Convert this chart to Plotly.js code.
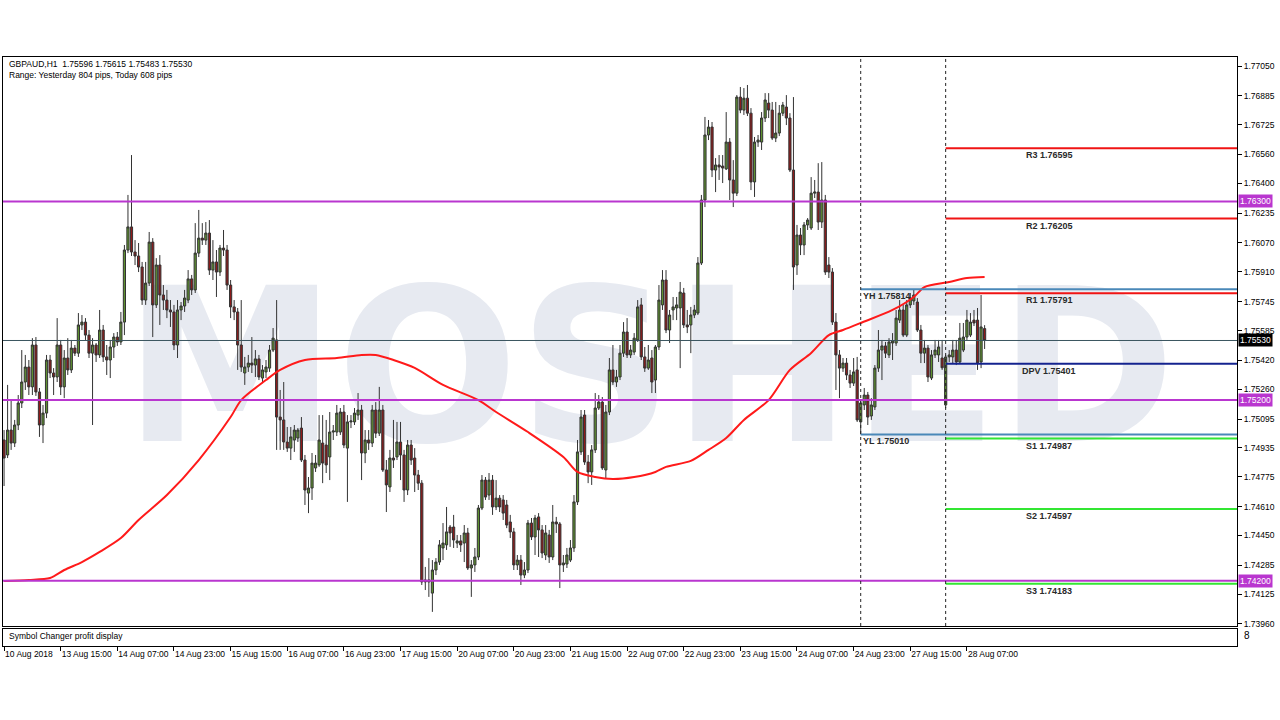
<!DOCTYPE html>
<html><head><meta charset="utf-8">
<script src="https://cdn.plot.ly/plotly-3.0.1.min.js"></script>
<style>html,body{margin:0;padding:0;background:#fff;}#chart{width:1280px;height:720px;}</style>
</head><body><div id="chart"></div>
<script>
const opens=[1.74979,1.74896,1.75034,1.74962,1.75062,1.75184,1.75300,1.75383,1.75273,1.75505,
1.75245,1.75062,1.75128,1.75422,1.75350,1.75328,1.75505,1.75273,1.75433,1.75367,
1.75488,1.75460,1.75616,1.75632,1.75560,1.75460,1.75505,1.75450,1.75588,1.75439,
1.75422,1.75494,1.75549,1.75522,1.75632,1.76031,1.76159,1.76020,1.75998,1.75937,
1.75754,1.75848,1.76075,1.75727,1.75948,1.75782,1.75754,1.75699,1.75688,1.75505,
1.75699,1.75721,1.75754,1.75871,1.75810,1.76014,1.76097,1.76086,1.76125,1.75920,
1.75965,1.75909,1.76042,1.76031,1.75837,1.75716,1.75688,1.75505,1.75350,1.75383,
1.75405,1.75394,1.75428,1.75322,1.75356,1.75377,1.75477,1.75533,1.75106,1.75090,
1.74968,1.74934,1.74979,1.74990,1.75045,1.74868,1.74685,1.74713,1.74824,1.74841,
1.74962,1.74951,1.74885,1.75023,1.75023,1.75023,1.75134,1.74934,1.75079,1.75079,
1.75117,1.75145,1.74907,1.74979,1.74962,1.75145,1.75017,1.75145,1.74813,1.74719,
1.74879,1.74885,1.74968,1.74896,1.74702,1.74951,1.74879,1.74785,1.74740,1.74204,
1.74193,1.74131,1.74259,1.74303,1.74381,1.74398,1.74497,1.74497,1.74408,1.74420,
1.74408,1.74464,1.74270,1.74287,1.74331,1.74602,1.74757,1.74674,1.74757,1.74608,
1.74657,1.74647,1.74619,1.74525,1.74470,1.74287,1.74314,1.74231,1.74259,1.74519,
1.74442,1.74553,1.74481,1.74342,1.74453,1.74331,1.74525,1.74514,1.74287,1.74292,
1.74314,1.74381,1.74636,1.74913,1.75117,1.74857,1.74802,1.74924,1.75156,1.75189,
1.74813,1.75134,1.75367,1.75300,1.75328,1.75460,1.75577,1.75450,1.75466,1.75533,
1.75727,1.75439,1.75377,1.75433,1.75311,1.75494,1.75727,1.75865,1.75588,1.75699,
1.75710,1.75710,1.75793,1.75616,1.75616,1.75671,1.75682,1.75959,1.76308,1.76668,
1.76712,1.76474,1.76502,1.76496,1.76480,1.76629,1.76419,1.76346,1.76878,1.76806,
1.76872,1.76789,1.76408,1.76629,1.76629,1.76762,1.76845,1.76806,1.76651,1.76679,
1.76789,1.76823,1.76762,1.76474,1.75948,1.76114,1.76059,1.76170,1.76153,1.76346,
1.76352,1.76186,1.76308,1.75948,1.75909,1.75632,1.75450,1.75377,1.75405,1.75339,
1.75294,1.75367,1.75079,1.75173,1.75228,1.75112,1.75162,1.75377,1.75477,1.75500,
1.75450,1.75516,1.75516,1.75643,1.75699,1.75560,1.75727,1.75749,1.75743,1.75588,
1.75460,1.75488,1.75322,1.75450,1.75450,1.75433,1.75173,1.75439,1.75439,1.75477,
1.75411,1.75477,1.75549,1.75560,1.75643,1.75643,1.75411,1.75596];
const highs=[1.75034,1.75284,1.75200,1.75090,1.75228,1.75477,1.75450,1.75422,1.75543,1.75549,
1.75267,1.75173,1.75450,1.75450,1.75377,1.75654,1.75533,1.75477,1.75543,1.75533,
1.75505,1.75682,1.75671,1.75654,1.75588,1.75543,1.75516,1.75699,1.75616,1.75505,
1.75533,1.75571,1.75577,1.75688,1.76059,1.76336,1.76557,1.76086,1.76070,1.75965,
1.75965,1.76131,1.76097,1.75986,1.76003,1.75837,1.75810,1.75754,1.75727,1.75754,
1.75743,1.75810,1.75920,1.75893,1.76180,1.76253,1.76180,1.76186,1.76197,1.76086,
1.76031,1.76059,1.76142,1.76059,1.75865,1.75754,1.75710,1.75754,1.75439,1.75450,
1.75549,1.75477,1.75450,1.75394,1.75422,1.75505,1.75599,1.75754,1.75256,1.75300,
1.75051,1.75051,1.75062,1.75045,1.75106,1.74896,1.74774,1.74907,1.74896,1.75117,
1.75117,1.75090,1.75134,1.75062,1.75173,1.75156,1.75173,1.75117,1.75117,1.75156,
1.75239,1.75173,1.75034,1.75034,1.75173,1.75189,1.75273,1.75173,1.74868,1.74924,
1.75090,1.75079,1.75079,1.74924,1.74979,1.74979,1.74934,1.74813,1.74757,1.74276,
1.74325,1.74314,1.74325,1.74425,1.74519,1.74608,1.74508,1.74564,1.74453,1.74453,
1.74508,1.74492,1.74314,1.74381,1.74619,1.74785,1.74774,1.74796,1.74785,1.74757,
1.74674,1.74674,1.74647,1.74564,1.74492,1.74342,1.74342,1.74303,1.74536,1.74547,
1.74564,1.74574,1.74508,1.74508,1.74481,1.74619,1.74553,1.74525,1.74342,1.74381,
1.74425,1.74674,1.74979,1.75145,1.75145,1.74896,1.74951,1.75239,1.75228,1.75217,
1.75173,1.75433,1.75505,1.75367,1.75505,1.75632,1.75654,1.75505,1.75571,1.75754,
1.75765,1.75494,1.75505,1.75477,1.75505,1.75837,1.75920,1.75920,1.75699,1.75771,
1.75771,1.75854,1.75821,1.75699,1.75716,1.75727,1.75992,1.76336,1.76768,1.76751,
1.76740,1.76540,1.76557,1.76557,1.76795,1.76651,1.76529,1.76889,1.76934,1.76928,
1.76945,1.76817,1.76657,1.76668,1.76795,1.76900,1.76900,1.76851,1.76851,1.76834,
1.76851,1.76889,1.76789,1.76878,1.76170,1.76153,1.76186,1.76208,1.76435,1.76419,
1.76512,1.76518,1.76336,1.75992,1.75931,1.75682,1.75477,1.75433,1.75433,1.75367,
1.75433,1.75439,1.75200,1.75267,1.75245,1.75211,1.75394,1.75588,1.75533,1.75522,
1.75543,1.75571,1.75699,1.75754,1.75727,1.75754,1.75793,1.75814,1.75765,1.75616,
1.75533,1.75505,1.75477,1.75533,1.75533,1.75533,1.75450,1.75477,1.75533,1.75533,
1.75627,1.75627,1.75699,1.75682,1.75699,1.75710,1.75782,1.75615];
const lows=[1.74724,1.74879,1.74924,1.74940,1.75034,1.75156,1.75256,1.75228,1.75228,1.75223,
1.74996,1.74962,1.75100,1.75322,1.75228,1.75300,1.75228,1.75211,1.75339,1.75350,
1.75444,1.75439,1.75588,1.75533,1.75433,1.75062,1.75411,1.75433,1.75411,1.75339,
1.75322,1.75433,1.75500,1.75505,1.75560,1.76014,1.75998,1.75948,1.75909,1.75727,
1.75727,1.75832,1.75549,1.75710,1.75616,1.75699,1.75654,1.75605,1.75477,1.75433,
1.75643,1.75688,1.75737,1.75782,1.75793,1.75992,1.76059,1.76059,1.75893,1.75865,
1.75771,1.75887,1.75998,1.75810,1.75654,1.75643,1.75367,1.75356,1.75284,1.75356,
1.75350,1.75328,1.75311,1.75294,1.75322,1.75356,1.75466,1.74924,1.74924,1.74924,
1.74913,1.74868,1.74913,1.74968,1.74857,1.74619,1.74574,1.74647,1.74802,1.74830,
1.74740,1.74796,1.74757,1.74979,1.75001,1.75007,1.74934,1.74636,1.75045,1.75062,
1.75090,1.74757,1.74851,1.74924,1.74940,1.74990,1.75001,1.74802,1.74580,1.74691,
1.74824,1.74868,1.74757,1.74636,1.74674,1.74841,1.74691,1.74702,1.74176,1.74148,
1.74110,1.74027,1.74231,1.74287,1.74314,1.74370,1.74387,1.74381,1.74381,1.74359,
1.74303,1.74259,1.74110,1.74248,1.74314,1.74591,1.74647,1.74647,1.74564,1.74591,
1.74580,1.74536,1.74491,1.74436,1.74259,1.74259,1.74176,1.74214,1.74242,1.74425,
1.74342,1.74331,1.74325,1.74314,1.74298,1.74314,1.74464,1.74159,1.74248,1.74270,
1.74303,1.74359,1.74619,1.74896,1.74841,1.74740,1.74730,1.74907,1.75145,1.74813,
1.74768,1.75117,1.75284,1.75273,1.75311,1.75439,1.75433,1.75433,1.75450,1.75522,
1.75422,1.75356,1.75367,1.75239,1.75239,1.75477,1.75699,1.75571,1.75516,1.75643,
1.75643,1.75377,1.75599,1.75571,1.75460,1.75654,1.75671,1.75948,1.76269,1.76640,
1.76435,1.76352,1.76419,1.76402,1.76474,1.76308,1.76269,1.76330,1.76789,1.76779,
1.76773,1.76363,1.76325,1.76602,1.76585,1.76740,1.76762,1.76640,1.76629,1.76662,
1.76773,1.76723,1.76463,1.75810,1.75893,1.76003,1.76003,1.76142,1.76142,1.76319,
1.76142,1.76153,1.75893,1.75876,1.75616,1.75256,1.75211,1.75356,1.75311,1.75267,
1.75278,1.75079,1.75010,1.75145,1.75062,1.75090,1.75145,1.75356,1.75311,1.75433,
1.75433,1.75422,1.75500,1.75627,1.75549,1.75549,1.75710,1.75727,1.75577,1.75405,
1.75405,1.75300,1.75311,1.75433,1.75411,1.75367,1.75156,1.75411,1.75405,1.75394,
1.75400,1.75466,1.75533,1.75549,1.75610,1.75367,1.75377,1.75483];
const closes=[1.74879,1.75034,1.74962,1.75062,1.75184,1.75300,1.75383,1.75273,1.75505,1.75245,
1.75062,1.75128,1.75422,1.75350,1.75328,1.75505,1.75273,1.75433,1.75367,1.75488,
1.75460,1.75616,1.75632,1.75560,1.75460,1.75505,1.75450,1.75588,1.75439,1.75422,
1.75494,1.75549,1.75522,1.75632,1.76031,1.76159,1.76020,1.75998,1.75937,1.75754,
1.75848,1.76075,1.75727,1.75948,1.75782,1.75754,1.75699,1.75688,1.75505,1.75699,
1.75721,1.75765,1.75871,1.75810,1.76014,1.76097,1.76086,1.76125,1.75920,1.75965,
1.75909,1.76042,1.76031,1.75837,1.75716,1.75688,1.75505,1.75383,1.75383,1.75405,
1.75394,1.75428,1.75328,1.75367,1.75383,1.75477,1.75543,1.75106,1.75090,1.74968,
1.74934,1.74996,1.75034,1.75034,1.74868,1.74702,1.74713,1.74851,1.74851,1.74979,
1.74851,1.74841,1.75023,1.75029,1.75128,1.75134,1.74951,1.75079,1.75084,1.75128,
1.75145,1.74907,1.74979,1.74962,1.75145,1.75017,1.75145,1.74813,1.74730,1.74879,
1.74868,1.74968,1.74896,1.74702,1.74951,1.74868,1.74785,1.74740,1.74193,1.74193,
1.74204,1.74259,1.74303,1.74398,1.74408,1.74470,1.74464,1.74425,1.74420,1.74398,
1.74464,1.74270,1.74287,1.74331,1.74602,1.74757,1.74663,1.74757,1.74608,1.74657,
1.74608,1.74574,1.74508,1.74470,1.74287,1.74314,1.74231,1.74259,1.74519,1.74442,
1.74547,1.74481,1.74353,1.74464,1.74331,1.74525,1.74514,1.74287,1.74298,1.74342,
1.74381,1.74636,1.74913,1.75106,1.74857,1.74802,1.74924,1.75156,1.75189,1.74824,
1.75134,1.75367,1.75300,1.75328,1.75460,1.75577,1.75450,1.75477,1.75543,1.75716,
1.75439,1.75377,1.75422,1.75300,1.75494,1.75754,1.75865,1.75588,1.75671,1.75716,
1.75727,1.75798,1.75616,1.75605,1.75671,1.75699,1.75959,1.76308,1.76668,1.76712,
1.76474,1.76502,1.76491,1.76485,1.76629,1.76419,1.76346,1.76878,1.76806,1.76872,
1.76789,1.76408,1.76629,1.76640,1.76762,1.76862,1.76806,1.76651,1.76679,1.76789,
1.76834,1.76762,1.76474,1.75937,1.76114,1.76059,1.76170,1.76197,1.76346,1.76352,
1.76186,1.76308,1.75909,1.75909,1.75632,1.75450,1.75377,1.75405,1.75339,1.75294,
1.75356,1.75090,1.75184,1.75228,1.75106,1.75173,1.75377,1.75477,1.75500,1.75460,
1.75522,1.75527,1.75654,1.75699,1.75560,1.75727,1.75765,1.75782,1.75588,1.75460,
1.75488,1.75328,1.75450,1.75477,1.75494,1.75379,1.75439,1.75450,1.75477,1.75411,
1.75543,1.75549,1.75643,1.75632,1.75627,1.75405,1.75605,1.75530];

const timeTickIdx=[0,16,32,48,64,80,96,112,128,144,160,176,192,208,224,240,256,272];
const timeTickText=['10 Aug 2018','13 Aug 15:00','14 Aug 07:00','14 Aug 23:00','15 Aug 15:00','16 Aug 07:00','16 Aug 23:00','17 Aug 15:00','20 Aug 07:00','20 Aug 23:00','21 Aug 15:00','22 Aug 07:00','22 Aug 23:00','23 Aug 15:00','24 Aug 07:00','24 Aug 23:00','27 Aug 15:00','28 Aug 07:00'];
const priceTicks=[1.77050,1.76885,1.76725,1.76560,1.76400,1.76235,1.76070,1.75910,1.75745,1.75585,1.75420,1.75260,1.75095,1.74935,1.74775,1.74610,1.74450,1.74285,1.74125,1.73960];

const maIdx=[0,7,13,17,22,27,33,38,46,55,64,67,74,78,85,94,101,105,110,116,124,134,139,148,158,162,167,172,178,184,187,194,199,204,209,216,222,228,233,237,242,251,257,260,267,272,277];
const maVal=[1.74198,1.74204,1.74215,1.74259,1.74303,1.74359,1.74436,1.74536,1.74674,1.74868,1.75106,1.75200,1.75311,1.75367,1.75422,1.75433,1.75450,1.75450,1.75422,1.75378,1.75284,1.75200,1.75134,1.75023,1.74885,1.74802,1.74774,1.74763,1.74774,1.74802,1.74830,1.74863,1.74924,1.74990,1.75090,1.75200,1.75367,1.75461,1.75560,1.75588,1.75627,1.75699,1.75771,1.75826,1.75854,1.75876,1.75882];

const roundLevels=[1.76300,1.75200,1.74200];
const bidPrice=1.75530;
const yesterdayHigh=1.75814, yesterdayLow=1.75010;
const pivotNames=['R3','R2','R1','DPV','S1','S2','S3'];
const pivotValues=[1.76595,1.76205,1.75791,1.75401,1.74987,1.74597,1.74183];
const sessionStarts=[242,266];
const headerText='GBPAUD,H1  1.75596 1.75615 1.75483 1.75530';
const rangeText='Range: Yesterday 804 pips, Today 608 pips';
const subWindowText='Symbol Changer profit display';

const FONT='Liberation Sans';
const xRange=[-0.3,348.3];
const yRange=[1.73949,1.77100];
const purple='#b936cf';
const pivotColors={R:'#f01414',D:'#14238f',S:'#33e633'};

const idx=opens.map((_,i)=>i);

const traces=[
 {type:'candlestick',x:idx,open:opens,high:highs,low:lows,close:closes,xaxis:'x',yaxis:'y',
  increasing:{fillcolor:'#5f9131',line:{color:'#333333',width:1}},
  decreasing:{fillcolor:'#8e1b1b',line:{color:'#333333',width:1}},
  whiskerwidth:0,hoverinfo:'skip',showlegend:false},
 {type:'scatter',mode:'lines',x:maIdx,y:maVal,xaxis:'x',yaxis:'y',
  line:{color:'#ff1a1a',width:2,shape:'spline',smoothing:0.8},hoverinfo:'skip',showlegend:false},
 {type:'scatter',mode:'lines',x:[xRange[0],xRange[1]],y:[0,0],xaxis:'x2',yaxis:'y2',
  line:{color:'rgba(0,0,0,0)'},hoverinfo:'skip',showlegend:false}
];

const shapes=[];
shapes.push({type:'rect',xref:'paper',yref:'paper',x0:0.024,x1:1.024,y0:0.335,y1:0.665,layer:'below',
  line:{width:0},fillcolor:'rgba(0,0,0,0)',
  label:{text:'MOSHED',textposition:'middle center',font:{family:'DejaVu Sans',size:214,color:'#e7eaf1',weight:'bold'}}});
roundLevels.forEach(v=>shapes.push({type:'line',xref:'paper',x0:0,x1:1,yref:'y',y0:v,y1:v,line:{color:purple,width:2},layer:'above'}));
shapes.push({type:'line',xref:'paper',x0:0,x1:1,yref:'y',y0:bidPrice,y1:bidPrice,line:{color:'#3b5560',width:1},layer:'above'});
[yesterdayHigh,yesterdayLow].forEach(v=>shapes.push({type:'line',xref:'x',x0:sessionStarts[0],x1:xRange[1],yref:'y',y0:v,y1:v,line:{color:'#4a88b8',width:2},layer:'above'}));
pivotValues.forEach((v,k)=>shapes.push({type:'line',xref:'x',x0:sessionStarts[1],x1:xRange[1],yref:'y',y0:v,y1:v,line:{color:pivotColors[pivotNames[k][0]],width:2},layer:'above'}));
sessionStarts.forEach(s=>shapes.push({type:'line',xref:'x',x0:s,x1:s,yref:'y domain',y0:0,y1:1,line:{color:'#222',width:1,dash:'dot'},layer:'above'}));

const ann=[];
const small={family:FONT,size:8.5,color:'#000'};
ann.push({xref:'paper',yref:'paper',x:0.0032,y:0.988,xanchor:'left',yanchor:'middle',text:headerText,showarrow:false,font:small});
ann.push({xref:'paper',yref:'paper',x:0.0032,y:0.9694,xanchor:'left',yanchor:'middle',text:rangeText,showarrow:false,font:small});
ann.push({xref:'paper',yref:'paper',x:0.0032,y:0.017,xanchor:'left',yanchor:'middle',text:subWindowText,showarrow:false,font:small});
ann.push({xref:'paper',yref:'paper',x:1,y:0.017,xanchor:'left',yanchor:'middle',xshift:5,text:'8',showarrow:false,font:{family:FONT,size:10,color:'#000'}});
pivotNames.forEach((n,k)=>ann.push({xref:'paper',yref:'y',x:0.8477,y:pivotValues[k],xanchor:'center',yanchor:'middle',yshift:-7,
  text:'<b>'+n+' '+pivotValues[k].toFixed(5)+'</b>',showarrow:false,font:{family:FONT,size:9,color:'#2a2a2a'}}));
[['YH',yesterdayHigh],['YL',yesterdayLow]].forEach(p=>ann.push({xref:'x',yref:'y',x:sessionStarts[0],y:p[1],xanchor:'left',yanchor:'middle',xshift:0,yshift:-7,
  text:'<b>'+p[0]+' '+p[1].toFixed(5)+'</b>',showarrow:false,font:{family:FONT,size:9,color:'#2a2a2a'}}));
roundLevels.forEach(v=>ann.push({xref:'paper',yref:'y',x:1,y:v,xanchor:'left',yanchor:'middle',xshift:1,text:v.toFixed(5),showarrow:false,
  bgcolor:purple,borderpad:1,font:{family:FONT,size:8.5,color:'#fff'}}));
ann.push({xref:'paper',yref:'y',x:1,y:bidPrice,xanchor:'left',yanchor:'middle',xshift:1,text:bidPrice.toFixed(5),showarrow:false,
  bgcolor:'#000',borderpad:1,font:{family:FONT,size:8.5,color:'#fff'}});

const layout={
 width:1280,height:720,margin:{l:3,r:43,t:57,b:74,pad:0},
 paper_bgcolor:'#fff',plot_bgcolor:'#fff',showlegend:false,boxgap:0.12,
 xaxis:{range:xRange,anchor:'y',showgrid:false,zeroline:false,showticklabels:false,ticks:'',
  showline:true,mirror:true,linecolor:'#000',linewidth:1,rangeslider:{visible:false},fixedrange:true},
 yaxis:{domain:[0.034,1],range:yRange,side:'right',anchor:'x',tickvals:priceTicks,ticktext:priceTicks.map(v=>v.toFixed(5)),
  ticks:'outside',ticklen:4,tickcolor:'#000',tickfont:{family:FONT,size:8.5,color:'#000'},
  showgrid:false,zeroline:false,showline:true,mirror:true,linecolor:'#000',linewidth:1,fixedrange:true},
 xaxis2:{range:xRange,anchor:'y2',matches:'x',tickvals:timeTickIdx,ticktext:timeTickText,ticks:'outside',ticklen:4,tickcolor:'#000',
  tickangle:0,ticklabelposition:'outside right',tickfont:{family:FONT,size:8.5,color:'#000'},showgrid:false,zeroline:false,
  showline:true,mirror:true,linecolor:'#000',linewidth:1,fixedrange:true},
 yaxis2:{domain:[0,0.029],range:[-1,1],anchor:'x2',side:'right',showticklabels:false,ticks:'',showgrid:false,zeroline:false,
  showline:true,mirror:true,linecolor:'#000',linewidth:1,fixedrange:true},
 shapes:shapes,annotations:ann,font:{family:FONT}
};
Plotly.newPlot('chart',traces,layout,{displayModeBar:false,staticPlot:true});
</script></body></html>
